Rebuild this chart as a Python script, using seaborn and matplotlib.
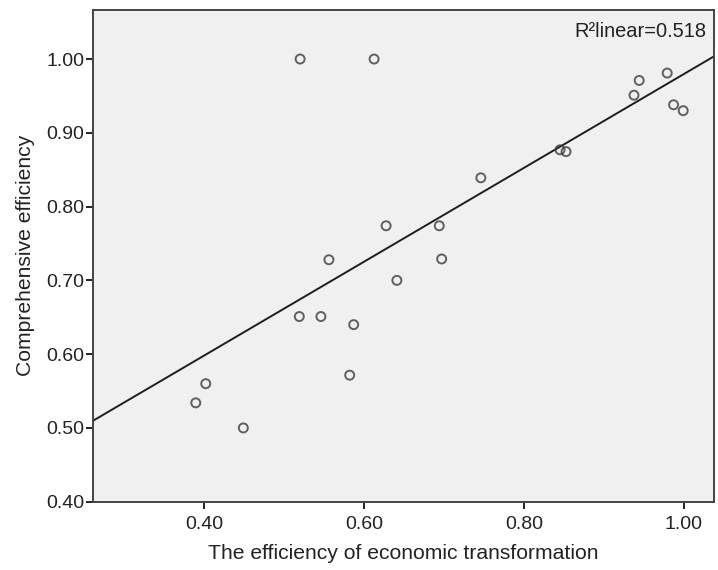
import matplotlib
matplotlib.use("Agg")
import matplotlib.pyplot as plt
import seaborn as sns
import pandas as pd

# values
econ_eff = [0.520, 0.556, 0.6125, 0.944, 0.979, 0.9375, 0.987, 0.999,
            0.845, 0.8525, 0.746, 0.6275, 0.694, 0.697, 0.641,
            0.519, 0.546, 0.587, 0.582, 0.402, 0.3895, 0.449]
comp_eff = [1.000, 0.728, 1.000, 0.971, 0.981, 0.951, 0.938, 0.930,
            0.877, 0.8745, 0.839, 0.774, 0.774, 0.729, 0.700,
            0.651, 0.651, 0.640, 0.5715, 0.560, 0.534, 0.500]
x_ticks = [0.40, 0.60, 0.80, 1.00]
y_ticks = [0.40, 0.50, 0.60, 0.70, 0.80, 0.90, 1.00]
r2_label = "R\u00b2linear=0.518"

df = pd.DataFrame({"econ": econ_eff, "comp": comp_eff})

sns.set_style("ticks")
plt.rcParams["font.family"] = ["Liberation Sans", "DejaVu Sans"]

fig = plt.figure(figsize=(7.18, 5.70), dpi=100)
ax = fig.add_axes([0.1295, 0.1198, 0.8649, 0.8627])
ax.set_facecolor("#f0f0f0")

# limits first so the fitted line spans the whole frame
ax.set_xlim(0.261, 1.0375)
ax.set_ylim(0.40, 1.0665)

sns.regplot(data=df, x="econ", y="comp", ax=ax, ci=None, truncate=False,
            scatter_kws=dict(s=42, facecolors="none", edgecolors="#3c3c3c",
                             linewidths=1.4, zorder=3),
            line_kws=dict(color="#1e1e1e", lw=1.4, zorder=2))

ax.set_xlim(0.261, 1.0375)
ax.set_ylim(0.40, 1.0665)
ax.set_xticks(x_ticks)
ax.set_yticks(y_ticks)
ax.set_xticklabels([f"{v:.2f}" for v in x_ticks])
ax.set_yticklabels([f"{v:.2f}" for v in y_ticks])
ax.tick_params(axis="both", labelsize=14, colors="#222222", length=5.2,
               width=1.4, direction="out")
ax.tick_params(axis="x", pad=5)
ax.tick_params(axis="y", pad=1)

for side in ["left", "bottom", "top", "right"]:
    ax.spines[side].set_visible(True)
    ax.spines[side].set_color("#444444")
    ax.spines[side].set_linewidth(1.4)

ax.set_xlabel("The efficiency of economic transformation", fontsize=15.2,
              color="#222222", labelpad=8)
ax.set_ylabel("Comprehensive efficiency", fontsize=15.2, color="#222222",
              labelpad=8)

ax.text(0.988, 0.975, r2_label, transform=ax.transAxes, ha="right", va="top",
        fontsize=14.4, color="#222222")

fig.savefig("out.png", dpi=100)
